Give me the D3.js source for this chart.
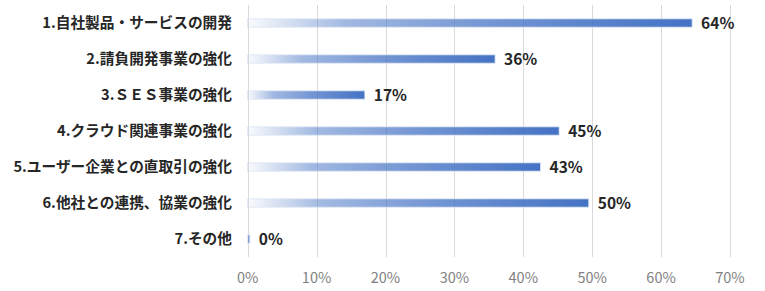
<!DOCTYPE html>
<html>
<head>
<meta charset="utf-8">
<script src="https://cdn.jsdelivr.net/npm/d3@7"></script>
<style>
  body { margin: 0; background: #fff; }
  text { font-family: "Noto Sans CJK JP", "Noto Sans", sans-serif; }
</style>
</head>
<body>
<div id="chart"></div>
<script>
var categories = [
    "1.自社製品・サービスの開発",
    "2.請負開発事業の強化",
    "3.ＳＥＳ事業の強化",
    "4.クラウド関連事業の強化",
    "5.ユーザー企業との直取引の強化",
    "6.他社との連携、協業の強化",
    "7.その他"
];
var values = [64.5, 35.9, 17.0, 45.2, 42.5, 49.5, 0.3];
var valueLabels = ["64%", "36%", "17%", "45%", "43%", "50%", "0%"];
var ticks = [0, 10, 20, 30, 40, 50, 60, 70];

var width = 765, height = 291;
var plotLeft = 247.7, plotRight = 730, plotTop = 5, plotBottom = 257;

var svg = d3.select("#chart").append("svg")
    .attr("width", width)
    .attr("height", height);

var defs = svg.append("defs");
var grad = defs.append("linearGradient")
    .attr("id", "barGrad")
    .attr("x1", "0%").attr("x2", "100%")
    .attr("y1", "0%").attr("y2", "0%");
grad.append("stop").attr("offset", "0%").attr("stop-color", "#4472c4").attr("stop-opacity", 0.03);
grad.append("stop").attr("offset", "22%").attr("stop-color", "#4472c4").attr("stop-opacity", 0.5);
grad.append("stop").attr("offset", "55%").attr("stop-color", "#4472c4").attr("stop-opacity", 0.75);
grad.append("stop").attr("offset", "100%").attr("stop-color", "#4472c4").attr("stop-opacity", 1);

var x = d3.scaleLinear().domain([0, 70]).range([plotLeft, plotRight]);
var y = d3.scaleBand().domain(categories).range([plotTop, plotBottom]).paddingInner(0.77).paddingOuter(0.385);

// gridlines
svg.selectAll(".grid")
    .data(ticks)
    .enter()
    .append("line")
    .attr("x1", function(d) { return Math.round(x(d)) + 0.5; })
    .attr("x2", function(d) { return Math.round(x(d)) + 0.5; })
    .attr("y1", plotTop)
    .attr("y2", plotBottom)
    .attr("stroke", "#d9d9d9")
    .attr("stroke-width", 1);

// tick labels
svg.selectAll(".tick")
    .data(ticks)
    .enter()
    .append("text")
    .attr("x", function(d) { return x(d); })
    .attr("y", 278)
    .attr("dy", "0.35em")
    .attr("text-anchor", "middle")
    .style("font-size", "14.5px")
    .style("fill", "#7f7f7f")
    .text(function(d) { return d + "%"; });

// bars
svg.selectAll(".bar")
    .data(values)
    .enter()
    .append("rect")
    .attr("x", x(0))
    .attr("y", function(d, i) { return y(categories[i]); })
    .attr("width", function(d) { return x(d) - x(0); })
    .attr("height", y.bandwidth())
    .attr("fill", "url(#barGrad)")
    .attr("stroke", "#dae3f3")
    .attr("stroke-width", 0.8);

// value labels
svg.selectAll(".val")
    .data(values)
    .enter()
    .append("text")
    .attr("x", function(d) { return x(d) + 9; })
    .attr("y", function(d, i) { return y(categories[i]) + y.bandwidth() / 2; })
    .attr("dy", "0.36em")
    .style("font-size", "15.5px")
    .style("font-weight", "bold")
    .style("fill", "#262626")
    .text(function(d, i) { return valueLabels[i]; });

// category labels
svg.selectAll(".cat")
    .data(categories)
    .enter()
    .append("text")
    .attr("x", 232)
    .attr("y", function(d) { return y(d) + y.bandwidth() / 2; })
    .attr("dy", "0.36em")
    .attr("text-anchor", "end")
    .style("font-size", "14.7px")
    .style("font-weight", "bold")
    .style("fill", "#262626")
    .text(function(d) { return d; });
</script>
</body>
</html>
